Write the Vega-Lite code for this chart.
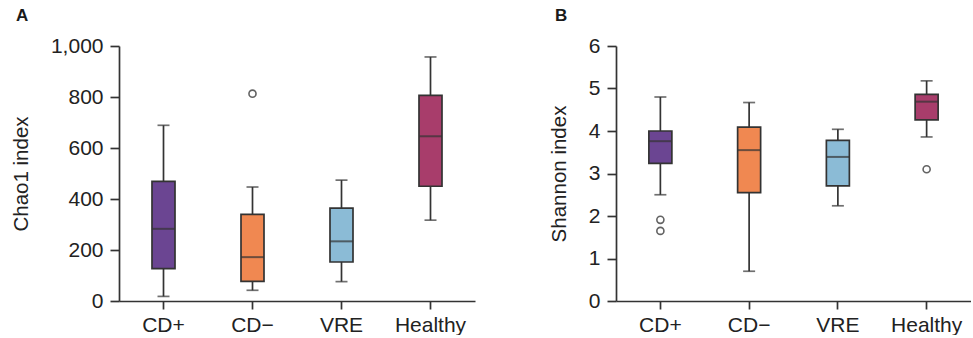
{
  "$schema": "https://vega.github.io/schema/vega-lite/v6.json",
  "background": "white",
  "padding": {"left": 11, "top": 7, "right": 0, "bottom": 0},
  "spacing": 74,
  "config": {
    "view": {"stroke": null},
    "font": "Liberation Sans",
    "axis": {
      "domainColor": "#333333",
      "domainWidth": 1.7,
      "tickColor": "#333333",
      "tickWidth": 1.7,
      "labelFont": "Liberation Sans",
      "labelFontSize": 21,
      "labelColor": "#222222",
      "titleFont": "Liberation Sans",
      "titleFontSize": 20.5,
      "titleFontWeight": "normal",
      "titleColor": "#222222",
      "grid": false
    },
    "title": {"font": "Liberation Sans", "fontSize": 17, "fontWeight": "bold", "color": "#1a1a1a", "anchor": "start", "frame": "group"}
  },
  "datasets": {
    "chao": [
      {"group": "CD+", "lower": 18, "q1": 127, "median": 283, "q3": 469, "upper": 689},
      {"group": "CD−", "lower": 42, "q1": 77, "median": 172, "q3": 340, "upper": 447},
      {"group": "VRE", "lower": 76, "q1": 153, "median": 234, "q3": 364, "upper": 474},
      {"group": "Healthy", "lower": 317, "q1": 450, "median": 646, "q3": 806, "upper": 957}
    ],
    "chaoOut": [
      {"group": "CD−", "value": 813}
    ],
    "shannon": [
      {"group": "CD+", "lower": 2.50, "q1": 3.24, "median": 3.76, "q3": 4.00, "upper": 4.80},
      {"group": "CD−", "lower": 0.70, "q1": 2.55, "median": 3.55, "q3": 4.09, "upper": 4.67},
      {"group": "VRE", "lower": 2.24, "q1": 2.71, "median": 3.39, "q3": 3.78, "upper": 4.04},
      {"group": "Healthy", "lower": 3.86, "q1": 4.26, "median": 4.69, "q3": 4.86, "upper": 5.18}
    ],
    "shannonOut": [
      {"group": "CD+", "value": 1.91},
      {"group": "CD+", "value": 1.65},
      {"group": "Healthy", "value": 3.10}
    ]
  },
  "hconcat": [
    {
      "width": 356,
      "height": 255,
      "title": {"text": "A", "dx": -103, "offset": 10},
      "layer": [
        {
          "data": {"name": "chao"},
          "mark": {"type": "rule", "color": "#333333", "strokeWidth": 1.7},
          "encoding": {
            "x": {"field": "group", "type": "nominal", "sort": ["CD+", "CD−", "VRE", "Healthy"], "scale": {"paddingInner": 0, "paddingOuter": 0}, "axis": {"title": null, "labelAngle": 0, "tickSize": 8, "labelPadding": 5}},
            "y": {"field": "lower", "type": "quantitative", "scale": {"domain": [0, 1000], "nice": false}, "axis": {"title": "Chao1 index", "values": [0, 200, 400, 600, 800, 1000], "format": ",.0f", "tickSize": 9, "labelPadding": 7, "titlePadding": 19}},
            "y2": {"field": "upper"}
          }
        },
        {
          "data": {"name": "chao"},
          "mark": {"type": "tick", "color": "#333333", "thickness": 1.7, "size": 12},
          "encoding": {
            "x": {"field": "group", "type": "nominal", "sort": ["CD+", "CD−", "VRE", "Healthy"]},
            "y": {"field": "lower", "type": "quantitative"}
          }
        },
        {
          "data": {"name": "chao"},
          "mark": {"type": "tick", "color": "#333333", "thickness": 1.7, "size": 12},
          "encoding": {
            "x": {"field": "group", "type": "nominal", "sort": ["CD+", "CD−", "VRE", "Healthy"]},
            "y": {"field": "upper", "type": "quantitative"}
          }
        },
        {
          "data": {"name": "chao"},
          "mark": {"type": "bar", "width": 23, "stroke": "#333333", "strokeWidth": 1.7},
          "encoding": {
            "x": {"field": "group", "type": "nominal", "sort": ["CD+", "CD−", "VRE", "Healthy"]},
            "y": {"field": "q1", "type": "quantitative"},
            "y2": {"field": "q3"},
            "color": {"field": "group", "type": "nominal", "scale": {"domain": ["CD+", "CD−", "VRE", "Healthy"], "range": ["#6b4592", "#f08851", "#8bbbd6", "#a83d6b"]}, "legend": null}
          }
        },
        {
          "data": {"name": "chao"},
          "mark": {"type": "tick", "color": "#333333", "thickness": 2, "size": 23},
          "encoding": {
            "x": {"field": "group", "type": "nominal", "sort": ["CD+", "CD−", "VRE", "Healthy"]},
            "y": {"field": "median", "type": "quantitative"}
          }
        },
        {
          "data": {"name": "chaoOut"},
          "mark": {"type": "point", "shape": "circle", "size": 50, "filled": false, "stroke": "#222222", "strokeWidth": 1.6, "fill": "white"},
          "encoding": {
            "x": {"field": "group", "type": "nominal", "sort": ["CD+", "CD−", "VRE", "Healthy"]},
            "y": {"field": "value", "type": "quantitative"}
          }
        }
      ]
    },
    {
      "width": 355,
      "height": 255,
      "title": {"text": "B", "dx": -61, "offset": 10},
      "layer": [
        {
          "data": {"name": "shannon"},
          "mark": {"type": "rule", "color": "#333333", "strokeWidth": 1.7},
          "encoding": {
            "x": {"field": "group", "type": "nominal", "sort": ["CD+", "CD−", "VRE", "Healthy"], "scale": {"paddingInner": 0, "paddingOuter": 0}, "axis": {"title": null, "labelAngle": 0, "tickSize": 8, "labelPadding": 5}},
            "y": {"field": "lower", "type": "quantitative", "scale": {"domain": [0, 6], "nice": false}, "axis": {"title": "Shannon index", "values": [0, 1, 2, 3, 4, 5, 6], "tickSize": 9, "labelPadding": 7, "titlePadding": 19}},
            "y2": {"field": "upper"}
          }
        },
        {
          "data": {"name": "shannon"},
          "mark": {"type": "tick", "color": "#333333", "thickness": 1.7, "size": 12},
          "encoding": {
            "x": {"field": "group", "type": "nominal", "sort": ["CD+", "CD−", "VRE", "Healthy"]},
            "y": {"field": "lower", "type": "quantitative"}
          }
        },
        {
          "data": {"name": "shannon"},
          "mark": {"type": "tick", "color": "#333333", "thickness": 1.7, "size": 12},
          "encoding": {
            "x": {"field": "group", "type": "nominal", "sort": ["CD+", "CD−", "VRE", "Healthy"]},
            "y": {"field": "upper", "type": "quantitative"}
          }
        },
        {
          "data": {"name": "shannon"},
          "mark": {"type": "bar", "width": 23, "stroke": "#333333", "strokeWidth": 1.7},
          "encoding": {
            "x": {"field": "group", "type": "nominal", "sort": ["CD+", "CD−", "VRE", "Healthy"]},
            "y": {"field": "q1", "type": "quantitative"},
            "y2": {"field": "q3"},
            "color": {"field": "group", "type": "nominal", "scale": {"domain": ["CD+", "CD−", "VRE", "Healthy"], "range": ["#6b4592", "#f08851", "#8bbbd6", "#a83d6b"]}, "legend": null}
          }
        },
        {
          "data": {"name": "shannon"},
          "mark": {"type": "tick", "color": "#333333", "thickness": 2, "size": 23},
          "encoding": {
            "x": {"field": "group", "type": "nominal", "sort": ["CD+", "CD−", "VRE", "Healthy"]},
            "y": {"field": "median", "type": "quantitative"}
          }
        },
        {
          "data": {"name": "shannonOut"},
          "mark": {"type": "point", "shape": "circle", "size": 50, "filled": false, "stroke": "#222222", "strokeWidth": 1.6, "fill": "white"},
          "encoding": {
            "x": {"field": "group", "type": "nominal", "sort": ["CD+", "CD−", "VRE", "Healthy"]},
            "y": {"field": "value", "type": "quantitative"}
          }
        }
      ]
    }
  ]
}
